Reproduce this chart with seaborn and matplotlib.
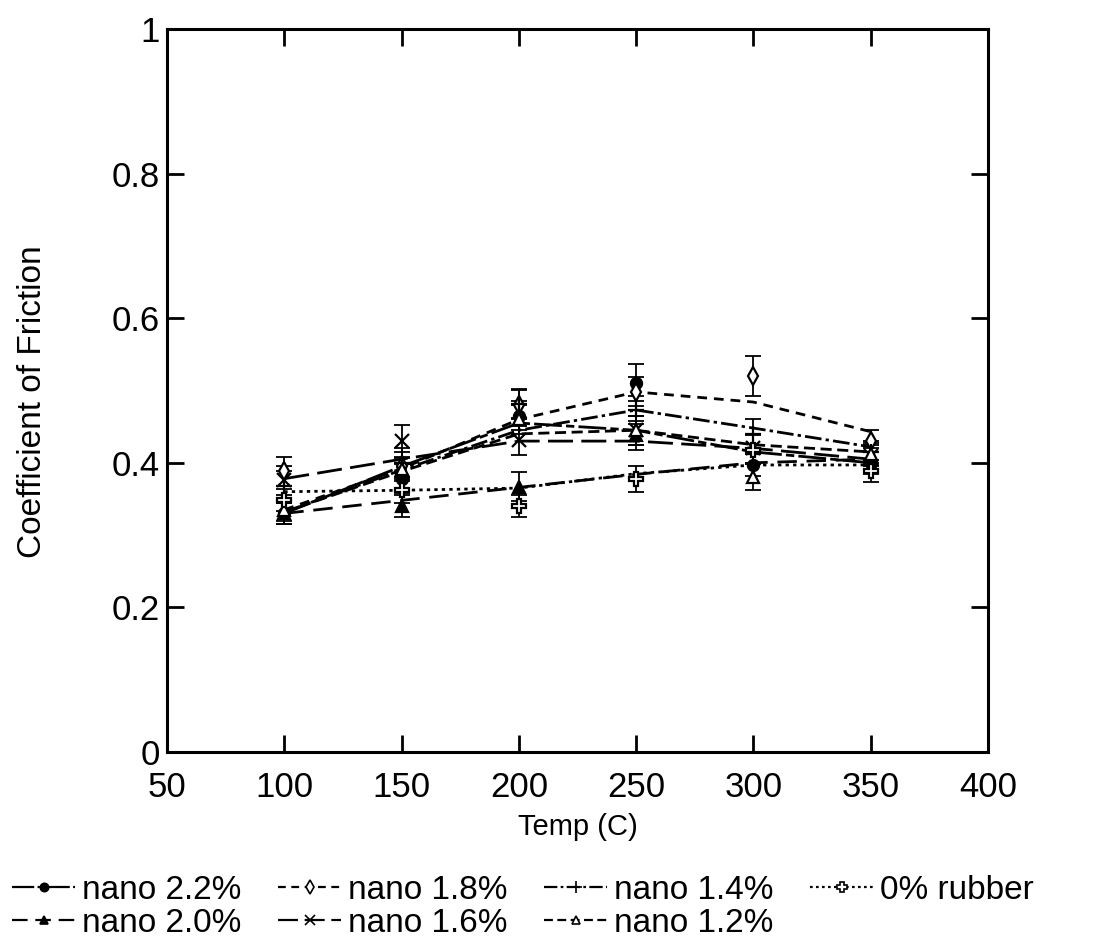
import matplotlib
matplotlib.use("Agg")
import matplotlib.pyplot as plt
from matplotlib.lines import Line2D
import numpy as np
import pandas as pd
import seaborn as sns

# Test temperatures (C)
temps = [100, 150, 200, 250, 300, 350]

series_names = ["nano 2.2%", "nano 2.0%", "nano 1.8%", "nano 1.6%",
                "nano 1.4%", "nano 1.2%", "0% rubber"]

# Measured mean coefficient of friction
mu_22 = [0.330, 0.378, 0.465, 0.511, 0.397, 0.400]
mu_20 = [0.330, 0.340, 0.367, 0.438, 0.420, 0.405]
mu_18 = [0.388, 0.395, 0.480, 0.498, 0.520, 0.430]
mu_16 = [0.376, 0.430, 0.431, 0.445, 0.420, 0.410]
mu_14 = [0.368, 0.400, 0.482, 0.473, 0.440, 0.415]
mu_12 = [0.335, 0.392, 0.460, 0.445, 0.380, 0.412]
mu_00 = [0.349, 0.362, 0.340, 0.378, 0.418, 0.389]

# Standard deviation of each measurement
sd_22 = [0.015, 0.020, 0.020, 0.025, 0.015, 0.015]
sd_20 = [0.015, 0.015, 0.020, 0.020, 0.020, 0.015]
sd_18 = [0.020, 0.020, 0.020, 0.020, 0.028, 0.015]
sd_16 = [0.020, 0.022, 0.020, 0.020, 0.020, 0.015]
sd_14 = [0.020, 0.020, 0.020, 0.020, 0.020, 0.015]
sd_12 = [0.015, 0.015, 0.020, 0.020, 0.018, 0.015]
sd_00 = [0.015, 0.018, 0.015, 0.018, 0.020, 0.015]

# Smoothed trend curves for each composition
fit_22 = [0.330, 0.395, 0.455, 0.445, 0.415, 0.400]
fit_20 = [0.330, 0.348, 0.366, 0.384, 0.400, 0.405]
fit_18 = [0.335, 0.392, 0.460, 0.498, 0.484, 0.443]
fit_16 = [0.378, 0.405, 0.430, 0.430, 0.420, 0.405]
fit_14 = [0.332, 0.390, 0.445, 0.473, 0.448, 0.422]
fit_12 = [0.332, 0.388, 0.440, 0.445, 0.425, 0.415]
fit_00 = [0.360, 0.362, 0.365, 0.385, 0.397, 0.397]

means = [mu_22, mu_20, mu_18, mu_16, mu_14, mu_12, mu_00]
sds = [sd_22, sd_20, sd_18, sd_16, sd_14, sd_12, sd_00]
fits = [fit_22, fit_20, fit_18, fit_16, fit_14, fit_12, fit_00]

styles = {
    "nano 2.2%": dict(marker="o", mfc="black", ms=8, dashes=(10, 1.5, 3, 1.5)),
    "nano 2.0%": dict(marker="^", mfc="black", ms=8, dashes=(7, 3.5)),
    "nano 1.8%": dict(marker="d", mfc="white", ms=9, dashes=(3.5, 2.5)),
    "nano 1.6%": dict(marker="x", mfc="black", ms=10, dashes=(9, 3)),
    "nano 1.4%": dict(marker="+", mfc="black", ms=12, dashes=(6, 1.5, 1.2, 1.5)),
    "nano 1.2%": dict(marker="^", mfc="white", ms=8, dashes=(4, 2)),
    "0% rubber": dict(marker="P", mfc="white", ms=10, dashes=(1.2, 1.5)),
}

rows = []
for name, m, s, f in zip(series_names, means, sds, fits):
    for t, mv, sv, fv in zip(temps, m, s, f):
        rows.append(dict(series=name, temp=t, mu=mv, sd=sv, fit=fv))
df = pd.DataFrame(rows)

sns.set_theme(style="ticks")
plt.rcParams["font.family"] = ["Liberation Sans", "DejaVu Sans"]
plt.rcParams["text.color"] = "black"
plt.rcParams["axes.labelcolor"] = "black"

fig = plt.figure(figsize=(11.01, 9.38), dpi=100)
ax = fig.add_axes([0.1517, 0.1983, 0.7457, 0.7708])

sns.lineplot(data=df, x="temp", y="fit", hue="series", style="series",
             palette=["black"] * len(series_names),
             dashes={k: v["dashes"] for k, v in styles.items()},
             linewidth=2.0, ax=ax, legend=False, sort=False)

for name in series_names:
    sub = df[df.series == name]
    st = styles[name]
    ax.errorbar(sub.temp, sub.mu, yerr=sub.sd, fmt="none", ecolor="black",
                elinewidth=1.3, capsize=6, capthick=1.3, zorder=3)
    ax.plot(sub.temp, sub.mu, linestyle="none", marker=st["marker"],
            mfc=st["mfc"], mec="black", mew=1.6, ms=st["ms"], zorder=4)

ax.set_xlim(50, 400)
ax.set_ylim(0, 1)
ax.set_xticks([50, 100, 150, 200, 250, 300, 350, 400])
ax.set_yticks([0, 0.2, 0.4, 0.6, 0.8, 1])
ax.set_yticklabels(["0", "0.2", "0.4", "0.6", "0.8", "1"])
ax.tick_params(direction="in", length=12, width=2, labelsize=25,
               top=True, right=True, colors="black")
ax.tick_params(axis="x", pad=14)
ax.tick_params(axis="y", pad=5)
for sp in ax.spines.values():
    sp.set_linewidth(2.2)
    sp.set_color("black")
    sp.set_visible(True)

ax.set_xlabel("Temp (C)", fontsize=21, color="black")
ax.set_ylabel("Coefficient of Friction", fontsize=24, color="black")
ax.xaxis.set_label_coords(0.50, -0.085)
ax.yaxis.set_label_coords(-0.145, 0.485)

handles = []
for name in series_names:
    st = styles[name]
    handles.append(Line2D([0], [0], color="black", lw=1.6, dashes=st["dashes"],
                          marker=st["marker"], mfc=st["mfc"], mec="black",
                          mew=1.2, ms=st["ms"] * 0.75))
leg = fig.legend(handles, series_names, loc="lower center",
                 bbox_to_anchor=(0.475, -0.022), ncol=4, frameon=False,
                 fontsize=24, handlelength=1.9, handletextpad=0.2,
                 columnspacing=1.1, labelspacing=0.05, borderaxespad=0.2)
for t in leg.get_texts():
    t.set_color("black")

fig.savefig("out.png", dpi=100, facecolor="white")
